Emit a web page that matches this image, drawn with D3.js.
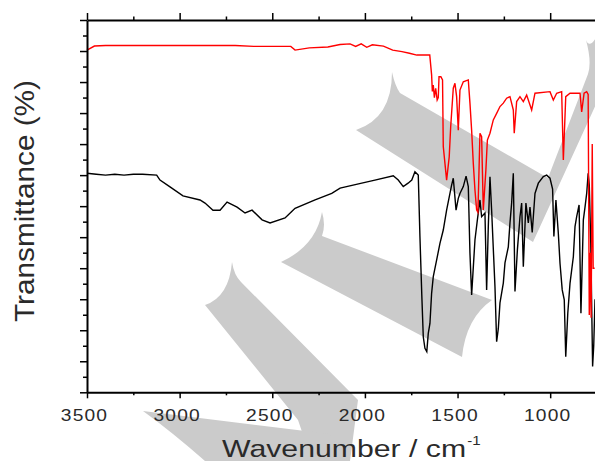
<!DOCTYPE html>
<html><head><meta charset="utf-8">
<script src="https://cdn.jsdelivr.net/npm/d3@7"></script>
<style>body{margin:0;background:#fff}svg{display:block}</style>
</head><body><svg id="c" width="595" height="461"></svg>
<script>
// ---- data ----
const xMajorTicks = [3500, 3000, 2500, 2000, 1500, 1000];
const xMinorTicks = [3250, 2750, 2250, 1750, 1250, 750];
const yMajorTicks = [0, 10, 20, 30, 40, 50, 60, 70, 80, 90, 100, 110, 120];
const yMinorTicks = [5, 15, 25, 35, 45, 55, 65, 75, 85, 95, 105, 115];

const blackWavenumber = [3500,3450,3400,3350,3300,3250,3200,3124,3106,3052,2982,2890,2863,2820,2782,2744,2690,2647,2609,2555,2512,2431,2388,2377,2269,2179,2134,2017,1946,1847,1820,1793,1767,1747,1730,1712,1703,1693,1685,1676,1666,1658,1649,1640,1631,1613,1595,1577,1559,1541,1532,1523,1508,1496,1487,1469,1454,1442,1433,1424,1406,1393,1379,1370,1352,1343,1334,1325,1316,1298,1289,1280,1271,1253,1244,1226,1217,1208,1199,1190,1177,1163,1154,1145,1131,1118,1109,1097,1082,1064,1037,1019,1001,987,980,969,956,947,935,924,916,905,893,875,866,857,844,834,821,812,803,795,789,781,771,765,758];
const blackTransmittance = [70.6,70.3,70.0,70.3,70.0,70.3,70.3,70.0,68.4,66.2,63.3,62.0,61.0,58.7,58.7,61.3,59.7,57.8,58.7,55.6,54.6,56.2,58.7,59.3,62.0,64.1,65.8,67.4,68.4,69.8,68.4,66.3,67.4,68.4,71.1,70.0,50.2,31.4,17.9,14.2,13.1,19.0,22.2,31.9,37.3,42.6,48.0,52.3,58.7,64.1,66.8,69.0,58.7,62.5,64.1,66.3,69.7,66.3,44.8,31.4,49.1,55.6,62.0,56.6,57.8,33.0,53.4,69.5,58.7,34.0,16.3,20.5,28.8,35.2,41.7,46.9,54.6,61.0,70.6,32.5,45.9,56.6,61.0,40.5,61.0,54.6,59.7,51.5,64.1,67.4,69.5,70.0,69.0,65.5,50.2,62.0,51.2,41.6,33.0,29.8,11.5,25.5,35.1,43.7,53.4,56.6,60.4,25.5,55.6,59.7,64.1,70.6,66.8,48.1,8.3,15.0,30.0];

const redWavenumber = [3500,3460,3400,3300,3200,3100,3000,2900,2800,2700,2600,2500,2400,2377,2300,2200,2134,2080,2050,2020,1990,1960,1900,1850,1800,1760,1720,1650,1640,1636,1631,1625,1618,1610,1604,1600,1590,1581,1577,1559,1545,1537,1523,1514,1505,1496,1487,1469,1442,1433,1424,1415,1406,1397,1390,1379,1370,1361,1347,1339,1325,1307,1289,1271,1253,1235,1217,1199,1194,1181,1163,1145,1127,1100,1082,1001,983,965,938,929,916,893,839,830,817,803,795,789,784,779,773,768,760];
const redTransmittance = [110.3,111.6,111.8,111.8,111.8,111.8,111.8,111.8,111.8,111.8,111.5,111.5,111.5,110.3,111.0,111.3,112.1,112.3,111.5,112.3,111.2,112.0,111.6,110.3,109.8,109.3,108.7,108.7,102.3,97.0,99.0,95.0,98.0,94.2,95.0,101.7,101.7,100.7,79.2,68.4,75.9,85.6,98.0,99.6,95.3,84.5,97.4,100.1,100.7,93.2,84.5,73.8,65.2,58.8,58.0,83.5,82.4,58.8,71.7,81.3,83.5,87.8,89.9,92.1,93.2,94.8,95.3,91.0,83.5,93.7,95.3,93.7,95.8,91.0,96.4,96.9,94.2,96.4,96.9,74.9,95.3,96.4,96.4,90.4,96.4,96.9,96.0,24.9,45.0,24.0,80.0,40.0,40.0];

const xLabel = "Wavenumber / cm";
const xLabelSup = "-1";
const yLabel = "Transmittance (%)";

// ---- drawing ----
const svg = d3.select("#c");
const FONT = "'Liberation Sans', Arial, sans-serif";
const x = d3.scaleLinear().domain([3500, 750]).range([87, 596.5]);
const y = d3.scaleLinear().domain([0, 120]).range([392.3, 20]);

// watermark (decorative, behind data)
const wm = svg.append("g").attr("fill", "#cbcbcb");
[
  "M392,72 Q392,118 356,130 L533,242 L598,100 L598,34 Q590,50 586,40 Q592,62 588,74 L548,178 L400,93 Q395,86 392,72 Z",
  "M322,212 Q316,246 281,262 L462,357 Q466,318 492,300 L322,236 Q326,225 322,212 Z",
  "M232,262 Q229,297 205,305 L298,420 L312,461 L350,461 L358,400 L241,282 Q234,275 232,262 Z",
  "M143,411 L330,434 L345,461 L205,461 Q172,432 143,411 Z"
].forEach(d => wm.append("path").attr("d", d));

const blackData = blackWavenumber.map((w, i) => [w, blackTransmittance[i]]);
const redData = redWavenumber.map((w, i) => [w, redTransmittance[i]]);
const line = d3.line().x(d => x(d[0])).y(d => y(d[1]));

svg.append("path").datum(blackData).attr("d", line)
  .attr("fill", "none").attr("stroke", "#000").attr("stroke-width", 1.4).attr("stroke-linejoin", "miter");
svg.append("path").datum(redData).attr("d", line)
  .attr("fill", "none").attr("stroke", "#ff0000").attr("stroke-width", 1.4).attr("stroke-linejoin", "miter");

function styleAxis(g) {
  g.selectAll("path.domain").attr("stroke", "#000").attr("stroke-width", 2);
  g.selectAll(".tick line").attr("stroke", "#000").attr("stroke-width", 1.5);
}

// bottom axis
const gb = svg.append("g").attr("transform", "translate(0,392.3)")
  .call(d3.axisBottom(x).tickValues(xMajorTicks).tickSize(6).tickSizeOuter(0).tickFormat(d3.format("d")));
styleAxis(gb);
gb.selectAll(".tick text")
  .attr("y", 28.4).attr("dy", null)
  .attr("font-family", FONT).attr("font-size", 16).attr("fill", "#2a2a2a")
  .style("letter-spacing", "1px")
  .attr("transform", "translate(-3,0) scale(1.2,1)");
const gbm = svg.append("g").attr("transform", "translate(0,392.3)")
  .call(d3.axisBottom(x).tickValues(xMinorTicks).tickSize(3).tickFormat(""));
gbm.select("path.domain").remove(); styleAxis(gbm);

// top axis
const gt = svg.append("g").attr("transform", "translate(0,20)")
  .call(d3.axisTop(x).tickValues(xMajorTicks).tickSize(7).tickSizeOuter(0).tickFormat(""));
styleAxis(gt);
const gtm = svg.append("g").attr("transform", "translate(0,20)")
  .call(d3.axisTop(x).tickValues(xMinorTicks).tickSize(3.5).tickFormat(""));
gtm.select("path.domain").remove(); styleAxis(gtm);

// left axis
const gl = svg.append("g").attr("transform", "translate(87,0)")
  .call(d3.axisLeft(y).tickValues(yMajorTicks).tickSize(7).tickSizeOuter(0).tickFormat(""));
styleAxis(gl);
const glm = svg.append("g").attr("transform", "translate(87,0)")
  .call(d3.axisLeft(y).tickValues(yMinorTicks).tickSize(4).tickFormat(""));
glm.select("path.domain").remove(); styleAxis(glm);

// axis titles
const xt = svg.append("text")
  .attr("transform", "translate(222,456.5) scale(1.26,1)")
  .attr("font-family", FONT).attr("font-size", 24).attr("fill", "#2a2a2a");
xt.append("tspan").text(xLabel);
xt.append("tspan").attr("font-size", 12).attr("dx", 1).attr("dy", -12).text(xLabelSup);

svg.append("text")
  .attr("transform", "translate(34,201) rotate(-90)")
  .attr("text-anchor", "middle")
  .attr("font-family", FONT).attr("font-size", 28).attr("fill", "#2a2a2a")
  .attr("textLength", 242).attr("lengthAdjust", "spacingAndGlyphs")
  .text(yLabel);
</script></body></html>
